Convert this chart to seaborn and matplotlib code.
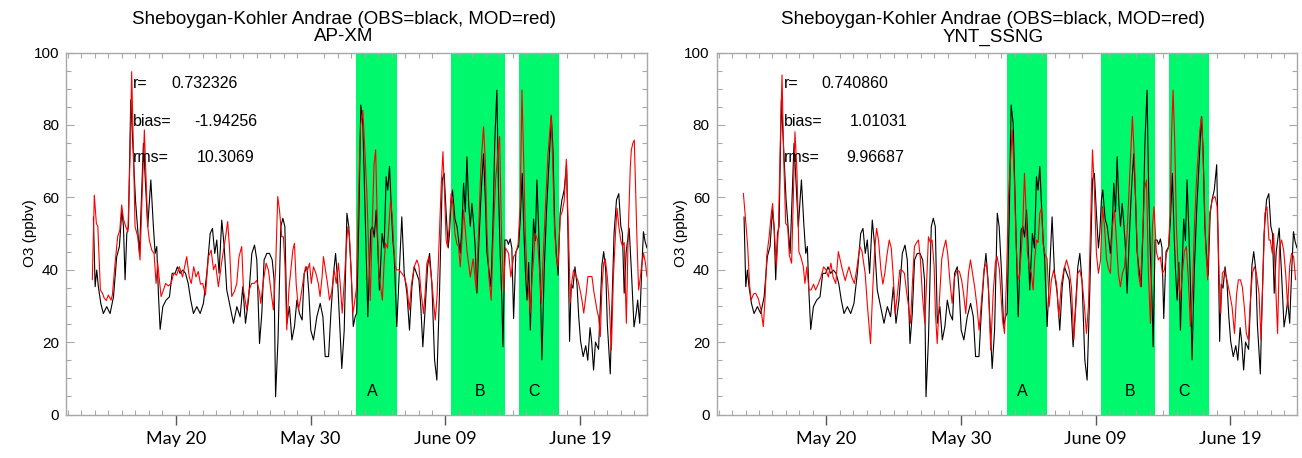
import numpy as np
import pandas as pd
import matplotlib
matplotlib.use("Agg")
import matplotlib.pyplot as plt
import matplotlib.dates as mdates
from matplotlib.ticker import FixedLocator, MultipleLocator
import seaborn as sns

# ---------------- data (time = day of May; June d = 31 + d) ----------------
obs_day = [13.89, 14.02, 14.14, 14.26, 14.44, 14.63, 14.88, 15.13, 15.38, 15.62, 15.82, 16.00, 16.12, 16.24,
           16.37, 16.49, 16.66, 16.86, 17.01, 17.16, 17.31, 17.60, 17.80, 17.92, 18.15, 18.34, 18.47, 18.59,
           18.71, 18.84, 19.04, 19.28, 19.53, 19.73, 19.95, 20.12, 20.32, 20.52, 20.72, 20.92, 21.11, 21.31,
           21.56, 21.81, 22.05, 22.30, 22.55, 22.72, 22.89, 23.04, 23.21, 23.41, 23.59, 23.78, 24.03, 24.28,
           24.53, 24.77, 24.97, 25.17, 25.39, 25.64, 25.84, 26.01, 26.21, 26.38, 26.55, 26.75, 26.95, 27.15,
           27.29, 27.40, 27.58, 27.79, 27.94, 28.09, 28.24, 28.43, 28.61, 28.80, 28.98, 29.17, 29.37, 29.52,
           29.72, 29.87, 30.01, 30.21, 30.46, 30.71, 30.91, 31.08, 31.33, 31.50, 31.70, 31.85, 32.00, 32.14,
           32.31, 32.49, 32.69, 32.83, 33.01, 33.16, 33.30, 33.42, 33.58, 33.72, 33.87, 34.07, 34.24, 34.46,
           34.59, 34.72, 34.86, 35.00, 35.10, 35.30, 35.45, 35.60, 35.72, 35.85, 35.97, 36.10, 36.20, 36.39,
           36.59, 36.76, 36.94, 37.14, 37.33, 37.51, 37.68, 37.85, 38.03, 38.17, 38.32, 38.50, 38.67, 38.82,
           38.99, 39.19, 39.36, 39.56, 39.76, 39.90, 40.05, 40.20, 40.30, 40.42, 40.52, 40.70, 40.85, 40.97,
           41.09, 41.22, 41.34, 41.47, 41.59, 41.72, 41.84, 41.96, 42.08, 42.20, 42.33, 42.48, 42.65, 42.82,
           42.95, 43.07, 43.19, 43.37, 43.52, 43.65, 43.81, 43.93, 44.05, 44.18, 44.26, 44.41, 44.55, 44.67,
           44.80, 44.92, 45.05, 45.22, 45.42, 45.54, 45.69, 45.80, 45.92, 46.04, 46.17, 46.29, 46.41, 46.53,
           46.66, 46.78, 46.90, 47.02, 47.15, 47.32, 47.50, 47.68, 47.85, 47.97, 48.10, 48.22, 48.35, 48.50,
           48.63, 48.80, 48.98, 49.08, 49.20, 49.32, 49.45, 49.60, 49.75, 49.88, 50.02, 50.21, 50.40, 50.55,
           50.72, 50.84, 50.98, 51.12, 51.35, 51.60, 51.73, 51.88, 52.00, 52.22, 52.34, 52.50, 52.68, 52.85,
           53.00, 53.12, 53.25, 53.40, 53.62, 53.78, 53.98, 54.14, 54.25, 54.40, 54.55, 54.68, 54.80, 54.94]
obs_o3 = [54.6, 35.3, 39.9, 35.3, 30.7, 27.9, 29.8, 27.9, 32.5, 43.6, 46.4, 56.5, 51.9, 37.2,
          50.0, 51.9, 86.9, 71.2, 59.3, 51.9, 44.5, 74.9, 60.2, 51.9, 64.8, 51.9, 44.5, 46.4,
          33.5, 23.5, 29.8, 31.6, 32.5, 39.0, 39.0, 40.8, 39.0, 39.9, 39.0, 36.2, 31.6, 27.9,
          29.8, 27.9, 30.7, 39.0, 50.0, 51.4, 44.5, 48.2, 39.0, 53.7, 46.4, 34.4, 29.8, 25.2,
          29.8, 27.0, 35.3, 25.2, 31.6, 44.5, 46.8, 42.7, 19.6, 27.9, 42.7, 44.5, 44.5, 42.7,
          37.2, 4.9, 20.6, 51.9, 54.2, 51.9, 25.2, 29.8, 20.6, 24.3, 31.6, 27.9, 26.1, 39.0,
          40.8, 33.5, 23.3, 20.6, 27.0, 30.7, 27.0, 16.0, 16.0, 27.9, 39.0, 44.5, 37.2, 26.1,
          12.7, 23.3, 55.6, 51.9, 39.0, 24.3, 27.0, 28.0, 55.0, 85.5, 80.4, 51.0, 27.0, 51.0,
          51.9, 49.0, 56.5, 45.0, 34.4, 50.0, 46.0, 65.7, 62.0, 68.5, 58.0, 48.0, 43.6, 24.3,
          40.8, 54.6, 39.0, 33.5, 23.3, 35.3, 40.8, 39.0, 37.2, 29.8, 18.7, 29.8, 40.8, 44.5,
          36.2, 15.1, 9.5, 34.4, 64.8, 66.6, 55.6, 46.0, 50.0, 59.2, 62.0, 54.0, 52.0, 48.2,
          44.5, 51.9, 63.9, 56.0, 71.2, 58.0, 52.0, 58.3, 53.0, 46.4, 33.5, 48.0, 62.0, 72.0,
          60.0, 45.0, 40.8, 35.3, 52.0, 75.0, 89.6, 62.0, 45.0, 31.6, 18.7, 48.2, 48.2, 47.0,
          48.5, 46.0, 26.5, 45.0, 46.4, 53.7, 66.6, 52.0, 40.0, 31.6, 42.0, 23.3, 40.0, 54.0,
          48.0, 64.8, 52.0, 38.0, 15.1, 40.0, 57.0, 70.0, 82.3, 73.0, 52.0, 44.5, 38.5, 55.6,
          59.2, 62.0, 69.0, 50.0, 20.2, 36.0, 34.9, 40.8, 36.0, 27.0, 20.2, 16.0, 19.0, 15.0,
          24.0, 20.0, 12.3, 20.0, 18.0, 41.3, 45.0, 40.0, 25.0, 11.2, 29.8, 50.0, 59.3, 61.0,
          52.0, 50.0, 33.5, 45.0, 51.5, 40.0, 24.2, 28.0, 31.6, 25.2, 40.0, 50.5, 47.8, 46.0]

apxm_day = [13.81, 13.96, 14.11, 14.22, 14.41, 14.56, 14.70, 14.85, 15.00, 15.20, 15.30, 15.50, 15.69, 15.85,
            15.99, 16.12, 16.29, 16.45, 16.60, 16.73, 16.85, 16.98, 17.18, 17.35, 17.50, 17.67, 17.80, 17.92,
            18.04, 18.22, 18.39, 18.54, 18.66, 18.91, 19.05, 19.25, 19.45, 19.65, 19.85, 20.06, 20.27, 20.50,
            20.81, 21.00, 21.15, 21.33, 21.50, 21.67, 21.83, 22.00, 22.20, 22.42, 22.62, 22.80, 22.95, 23.16,
            23.40, 23.65, 23.85, 24.00, 24.15, 24.35, 24.52, 24.69, 24.89, 25.02, 25.26, 25.45, 25.62, 25.81,
            26.00, 26.20, 26.30, 26.50, 26.70, 26.87, 27.05, 27.24, 27.40, 27.56, 27.69, 27.86, 27.98, 28.10,
            28.23, 28.40, 28.53, 28.68, 28.80, 28.93, 29.10, 29.25, 29.45, 29.62, 29.77, 29.92, 30.05, 30.21,
            30.40, 30.57, 30.70, 30.85, 30.95, 31.10, 31.25, 31.40, 31.57, 31.74, 31.90, 32.06, 32.19, 32.34,
            32.50, 32.63, 32.76, 32.88, 33.00, 33.13, 33.25, 33.40, 33.55, 33.70, 33.87, 34.02, 34.17, 34.30,
            34.42, 34.55, 34.70, 34.82, 34.95, 35.05, 35.20, 35.32, 35.45, 35.55, 35.70, 35.80, 35.93, 36.05,
            36.15, 36.27, 36.39, 36.55, 36.76, 36.95, 37.14, 37.31, 37.48, 37.68, 37.88, 38.03, 38.18, 38.37,
            38.50, 38.62, 38.77, 38.92, 39.06, 39.24, 39.38, 39.53, 39.67, 39.81, 39.93, 40.05, 40.15, 40.28,
            40.42, 40.55, 40.70, 40.85, 40.97, 41.09, 41.22, 41.34, 41.47, 41.60, 41.84, 42.05, 42.28, 42.45,
            42.62, 42.82, 42.95, 43.07, 43.22, 43.39, 43.52, 43.72, 43.88, 44.01, 44.15, 44.31, 44.45, 44.68,
            44.85, 45.05, 45.22, 45.38, 45.54, 45.67, 45.80, 45.92, 46.05, 46.17, 46.29, 46.42, 46.53, 46.65,
            46.83, 46.97, 47.10, 47.25, 47.42, 47.60, 47.84, 47.95, 48.08, 48.21, 48.34, 48.51, 48.65, 48.80,
            48.96, 49.08, 49.18, 49.25, 49.38, 49.50, 49.65, 49.82, 50.00, 50.12, 50.25, 50.42, 50.56, 50.72,
            50.86, 51.00, 51.23, 51.35, 51.48, 51.60, 51.73, 51.85, 52.00, 52.15, 52.30, 52.45, 52.62, 52.72,
            52.85, 53.00, 53.12, 53.25, 53.41, 53.55, 53.70, 53.78, 53.90, 54.00, 54.10, 54.20, 54.32, 54.45,
            54.57, 54.69, 54.82, 54.94]
apxm_o3 = [37.2, 60.6, 52.8, 52.0, 34.4, 33.5, 32.1, 31.5, 33.0, 31.6, 33.0, 41.8, 49.1, 51.0,
           57.9, 54.0, 51.9, 50.5, 70.0, 94.7, 75.0, 51.9, 49.1, 42.7, 60.0, 78.6, 65.0, 52.0,
           48.2, 45.4, 44.5, 36.2, 41.8, 32.6, 34.0, 36.2, 35.5, 36.2, 39.0, 38.5, 40.8, 38.0,
           43.6, 38.0, 36.2, 40.8, 38.0, 39.5, 36.0, 36.2, 33.0, 43.6, 45.4, 40.0, 41.5, 35.3,
           42.0, 48.0, 53.3, 45.0, 32.6, 34.0, 36.2, 43.6, 46.4, 34.4, 28.9, 34.4, 36.2, 36.2,
           37.0, 34.0, 30.7, 37.0, 41.8, 39.9, 34.4, 28.9, 40.0, 60.2, 56.5, 49.1, 49.1, 41.0,
           23.4, 35.0, 39.9, 45.4, 47.3, 36.0, 28.9, 32.0, 37.0, 40.8, 39.9, 41.8, 36.2, 40.8,
           38.9, 36.2, 32.6, 38.1, 43.6, 39.9, 36.2, 31.6, 34.0, 39.9, 36.2, 41.8, 36.2, 28.0,
           37.0, 45.4, 51.9, 49.0, 40.0, 28.0, 30.7, 35.0, 60.0, 80.0, 84.0, 73.0, 61.1, 46.0,
           31.5, 50.0, 69.0, 73.1, 52.0, 38.5, 35.0, 31.6, 42.0, 47.3, 46.0, 52.0, 59.2, 55.0,
           47.3, 41.0, 39.9, 40.0, 39.0, 38.0, 35.3, 28.9, 36.0, 40.8, 42.7, 41.0, 34.0, 27.9,
           34.0, 41.8, 43.6, 39.0, 33.5, 26.1, 33.0, 48.2, 62.0, 72.6, 61.0, 48.2, 46.4, 52.0,
           61.1, 58.0, 50.0, 47.0, 46.4, 40.8, 48.0, 56.5, 51.0, 45.0, 38.0, 43.0, 34.4, 50.0,
           68.0, 79.5, 70.0, 51.0, 38.0, 31.6, 48.0, 65.0, 72.0, 76.8, 50.0, 34.0, 46.0, 44.5,
           38.0, 43.6, 44.5, 47.0, 58.0, 89.6, 70.0, 50.0, 38.0, 34.0, 27.9, 38.0, 43.0, 50.0,
           48.2, 40.0, 30.7, 44.0, 58.0, 72.0, 82.7, 70.0, 52.0, 43.6, 40.8, 54.7, 56.0, 59.0,
           70.5, 55.0, 42.0, 31.0, 37.0, 39.9, 38.5, 37.0, 34.0, 31.6, 28.0, 33.0, 38.1, 38.1,
           38.1, 34.0, 28.9, 27.0, 21.5, 35.0, 41.8, 43.0, 38.0, 30.0, 17.8, 38.0, 51.0, 57.0,
           52.0, 48.0, 46.5, 47.5, 25.2, 50.0, 68.0, 73.1, 75.0, 75.8, 62.0, 48.0, 34.4, 38.0,
           41.8, 44.5, 42.0, 38.1]

ynt_day = [13.84, 14.00, 14.16, 14.30, 14.41, 14.60, 14.75, 14.95, 15.15, 15.32, 15.45, 15.57, 15.75, 15.89,
           16.01, 16.15, 16.29, 16.45, 16.58, 16.71, 16.84, 16.98, 17.13, 17.25, 17.42, 17.55, 17.67, 17.82,
           17.96, 18.11, 18.29, 18.41, 18.55, 18.71, 18.87, 19.05, 19.20, 19.40, 19.60, 19.80, 19.97, 20.15,
           20.34, 20.50, 20.70, 20.89, 21.04, 21.19, 21.40, 21.54, 21.68, 21.88, 22.08, 22.25, 22.49, 22.65,
           22.88, 23.05, 23.28, 23.45, 23.60, 23.73, 23.88, 24.05, 24.20, 24.34, 24.50, 24.67, 24.82, 24.97,
           25.11, 25.30, 25.45, 25.61, 25.80, 25.95, 26.10, 26.25, 26.40, 26.54, 26.70, 26.84, 26.98, 27.13,
           27.31, 27.45, 27.58, 27.72, 27.85, 28.00, 28.10, 28.23, 28.40, 28.57, 28.72, 28.87, 29.02, 29.17,
           29.34, 29.52, 29.71, 29.88, 30.05, 30.20, 30.35, 30.55, 30.70, 30.85, 31.02, 31.18, 31.34, 31.55,
           31.72, 31.89, 32.05, 32.20, 32.38, 32.55, 32.68, 32.85, 33.08, 33.23, 33.38, 33.52, 33.80, 33.95,
           34.08, 34.19, 34.32, 34.45, 34.58, 34.71, 34.82, 34.92, 35.06, 35.22, 35.35, 35.47, 35.60, 35.72,
           35.85, 35.97, 36.10, 36.22, 36.39, 36.54, 36.70, 36.88, 37.09, 37.26, 37.45, 37.63, 37.83, 38.03,
           38.20, 38.37, 38.52, 38.67, 38.82, 38.98, 39.16, 39.31, 39.46, 39.61, 39.76, 39.90, 40.05, 40.20,
           40.35, 40.50, 40.65, 40.80, 40.94, 41.09, 41.24, 41.39, 41.54, 41.68, 41.83, 41.98, 42.14, 42.33,
           42.52, 42.72, 42.87, 43.02, 43.17, 43.32, 43.47, 43.62, 43.77, 43.91, 44.06, 44.21, 44.33, 44.50,
           44.65, 44.80, 44.95, 45.10, 45.25, 45.40, 45.52, 45.62, 45.74, 45.86, 45.99, 46.13, 46.28, 46.43,
           46.58, 46.73, 46.88, 47.03, 47.18, 47.33, 47.48, 47.73, 47.87, 48.01, 48.16, 48.31, 48.46, 48.66,
           48.86, 49.01, 49.16, 49.28, 49.40, 49.57, 49.74, 49.94, 50.12, 50.30, 50.45, 50.59, 50.74, 50.88,
           51.03, 51.18, 51.33, 51.48, 51.63, 51.78, 51.93, 52.12, 52.27, 52.42, 52.56, 52.71, 52.86, 52.96,
           53.11, 53.21, 53.36, 53.50, 53.65, 53.80, 53.95, 54.10, 54.25, 54.40, 54.54, 54.69, 54.84]
ynt_o3 = [61.1, 54.0, 46.4, 36.0, 31.6, 33.3, 33.5, 32.0, 28.9, 24.3, 32.0, 43.6, 49.0, 54.7,
          58.3, 50.0, 40.8, 52.0, 75.0, 93.8, 70.0, 52.8, 52.0, 44.0, 41.8, 60.0, 78.1, 67.0,
          45.0, 43.5, 40.8, 36.2, 40.8, 34.4, 34.4, 36.0, 34.4, 36.0, 38.0, 40.8, 40.0, 38.0,
          41.8, 38.0, 36.2, 45.0, 42.5, 40.0, 37.0, 39.0, 40.8, 38.0, 36.2, 40.0, 46.4, 45.0,
          39.0, 30.0, 19.6, 35.0, 46.0, 51.4, 48.0, 40.0, 36.0, 39.0, 44.0, 48.2, 46.0, 38.0,
          28.0, 34.0, 39.9, 39.9, 39.0, 34.0, 30.0, 25.2, 37.0, 46.4, 47.5, 48.2, 43.0, 33.0,
          25.2, 37.0, 49.1, 47.5, 48.2, 41.0, 28.0, 19.6, 32.0, 43.0, 46.0, 48.2, 44.0, 37.0,
          30.7, 38.0, 39.9, 39.5, 37.0, 33.0, 27.9, 39.0, 42.7, 39.0, 35.0, 30.0, 23.3, 33.0,
          40.5, 41.8, 34.0, 17.8, 33.0, 42.0, 43.6, 40.0, 26.1, 22.4, 38.0, 60.0, 78.6, 66.0,
          48.0, 39.0, 37.2, 44.0, 51.5, 66.6, 57.0, 45.0, 40.8, 39.0, 34.4, 43.0, 48.2, 47.5,
          55.6, 57.0, 47.0, 44.5, 43.0, 29.8, 37.0, 39.9, 36.2, 27.0, 36.0, 39.9, 42.7, 39.9,
          35.0, 20.6, 30.0, 39.0, 39.9, 37.0, 30.0, 22.4, 30.0, 52.0, 73.1, 62.0, 44.5, 39.0,
          42.5, 57.4, 52.0, 43.0, 40.5, 39.0, 52.0, 56.5, 48.0, 39.0, 35.3, 39.0, 40.8, 50.0,
          66.0, 82.3, 71.0, 52.0, 39.0, 35.3, 48.0, 62.0, 64.8, 39.0, 25.2, 51.9, 57.4, 45.0,
          42.7, 43.5, 39.0, 40.0, 44.5, 46.0, 55.0, 76.0, 89.6, 76.0, 52.0, 39.0, 31.6, 39.0,
          45.0, 46.4, 37.0, 24.3, 34.0, 52.0, 64.8, 78.5, 82.3, 66.6, 46.4, 37.2, 55.6, 59.5,
          60.2, 57.5, 39.0, 27.9, 39.0, 39.9, 37.2, 33.5, 29.8, 22.4, 33.0, 37.2, 37.2, 35.3,
          29.8, 22.4, 20.6, 31.5, 39.0, 40.8, 39.0, 33.5, 20.6, 39.0, 55.6, 57.4, 48.2, 48.2,
          44.5, 50.0, 35.3, 22.4, 46.4, 48.2, 45.4, 39.0, 29.8, 41.0, 44.5, 43.6, 37.2]

site_title = "Sheboygan-Kohler Andrae (OBS=black, MOD=red)"
model_names = ["AP-XM", "YNT_SSNG"]
stat_r = ["0.732326", "0.740860"]
stat_bias = ["-1.94256", "1.01031"]
stat_rms = ["10.3069", "9.96687"]
band_names = ["A", "B", "C"]
band_start = [33.38, 40.40, 45.42]
band_end = [36.38, 44.40, 48.42]
band_label_day = [34.54, 42.58, 46.53]
major_tick_day = [20, 30, 40, 50]
y_major = [0, 20, 40, 60, 80, 100]

# ---------------- helpers ----------------
base = pd.Timestamp("2017-04-30")


def to_time(days):
    return base + pd.to_timedelta(np.asarray(days, dtype=float), unit="D")


obs_df = pd.DataFrame({"time": to_time(obs_day), "o3": obs_o3})
mod_dfs = [pd.DataFrame({"time": to_time(apxm_day), "o3": apxm_o3}),
           pd.DataFrame({"time": to_time(ynt_day), "o3": ynt_o3})]

sns.set_style("white")
plt.rcParams["font.family"] = ["Liberation Sans", "DejaVu Sans"]
plt.rcParams["text.color"] = "black"
plt.rcParams["xtick.color"] = "black"
plt.rcParams["ytick.color"] = "black"
plt.rcParams["axes.labelcolor"] = "black"

fig = plt.figure(figsize=(13.02, 4.58), dpi=100)
W, H = 1302.0, 458.0
ax_boxes = [[66 / W, 1 - 414.5 / H, 580.7 / W, 362 / H],
            [716.7 / W, 1 - 414.5 / H, 580.0 / W, 362 / H]]
stat_val_x = [[19.65, 21.39, 21.56], [19.60, 21.75, 21.45]]
stat_lab_x = [16.81, 16.88]
title_x = [0.479, 0.476]

axis_grey = "#a8a8a8"
band_green = "#00f86c"

for i in range(2):
    ax = fig.add_axes(ax_boxes[i])
    for s, e in zip(band_start, band_end):
        ax.axvspan(to_time([s])[0], to_time([e])[0], color=band_green, lw=0, zorder=0)
    sns.lineplot(data=obs_df, x="time", y="o3", color="black", lw=0.8,
                 estimator=None, sort=False, ax=ax, zorder=3)
    sns.lineplot(data=mod_dfs[i], x="time", y="o3", color="#ff0000", lw=0.8,
                 estimator=None, sort=False, ax=ax, zorder=4)

    ax.set_xlim(to_time([11.86])[0], to_time([54.92])[0])
    ax.set_ylim(0, 100)

    # ticks
    ax.xaxis.set_major_locator(FixedLocator(mdates.date2num(to_time(major_tick_day))))
    ax.xaxis.set_major_formatter(mdates.DateFormatter("%B %d"))
    ax.xaxis.set_minor_locator(mdates.DayLocator())
    ax.yaxis.set_major_locator(FixedLocator(y_major))
    ax.yaxis.set_minor_locator(MultipleLocator(5))
    ax.tick_params(axis="x", which="major", direction="out", length=7, width=1,
                   color="#555555", labelcolor="black", bottom=True, top=False, pad=5, labelsize=13)
    ax.tick_params(axis="x", which="minor", direction="in", length=3.5, width=0.8,
                   color=axis_grey, bottom=True, top=True)
    ax.tick_params(axis="y", which="major", direction="in", length=6, width=0.8,
                   color=axis_grey, labelcolor="black", left=True, right=True, pad=5, labelsize=11)
    ax.tick_params(axis="y", which="minor", direction="in", length=3.5, width=0.8,
                   color=axis_grey, left=True, right=True)
    for lab in ax.get_xticklabels():
        lab.set_fontfamily(["Lato", "DejaVu Sans"])
    for sp in ax.spines.values():
        sp.set_color(axis_grey)
        sp.set_linewidth(1.0)

    ax.set_xlabel("")
    ax.set_ylabel("")
    ax.text(-0.062, 0.5, "O3 (ppbv)", rotation=90, transform=ax.transAxes,
            ha="center", va="center", fontsize=11)

    # titles
    ax.text(title_x[i], 1.0925, site_title, transform=ax.transAxes,
            ha="center", va="center", fontsize=13.5)
    ax.text(title_x[i], 1.043, model_names[i], transform=ax.transAxes,
            ha="center", va="center", fontsize=13.5)

    # statistics
    for lab, val, yv, vx in zip(["r=", "bias=", "rms="],
                                [stat_r[i], stat_bias[i], stat_rms[i]],
                                [91.5, 80.9, 71.0], stat_val_x[i]):
        ax.text(to_time([stat_lab_x[i]])[0], yv, lab, ha="left", va="center",
                fontsize=11.5, zorder=6)
        ax.text(to_time([vx])[0], yv, val, ha="left", va="center",
                fontsize=11.5, zorder=6)

    # band labels
    for name, d in zip(band_names, band_label_day):
        ax.text(to_time([d])[0], 6.3, name, ha="center", va="center",
                fontsize=11.5, zorder=6)

fig.savefig("out.png", dpi=100, facecolor="white")
